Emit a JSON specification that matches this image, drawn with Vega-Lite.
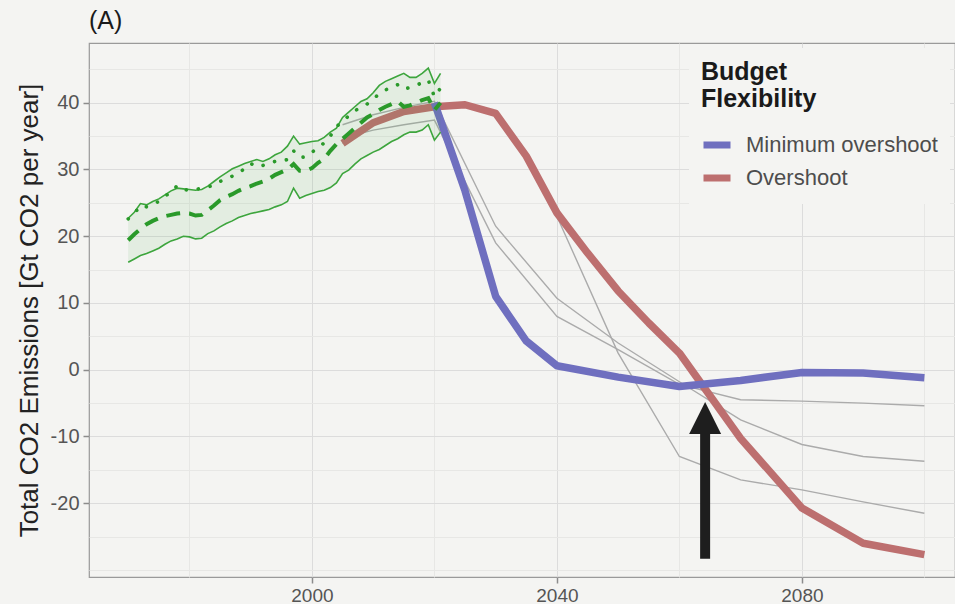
{
  "$schema": "https://vega.github.io/schema/vega-lite/v6.json",
  "width": 866,
  "height": 534,
  "autosize": "none",
  "padding": {"left": 89, "top": 43, "right": 0, "bottom": 27},
  "background": "#f4f4f2",
  "title": {"text": "(A)", "anchor": "start", "frame": "group", "fontSize": 25, "fontWeight": "normal", "color": "#1a1a1a", "offset": 9},
  "config": {
    "font": "Liberation Sans",
    "view": {"stroke": "#9a9a9a", "strokeWidth": 1.2},
    "axisY": {
      "titleFontSize": 26,
      "titleFontWeight": "normal",
      "titleColor": "#222222",
      "titlePadding": 8,
      "labelOverlap": false,
      "labelFlush": false,
      "domain": false,
      "tickSize": 6,
      "tickWidth": 1.5,
      "labelFontSize": 20,
      "labelColor": "#555555",
      "labelPadding": 4,
      "gridWidth": 1
    }
  },
  "datasets": {
    "hist": [
      {"year": 1970, "upper": 22.7, "lower": 16.1, "dashed": 19.4, "dotted": 22.6},
      {"year": 1971, "upper": 23.6, "lower": 16.6, "dashed": 20.3, "dotted": 23.4},
      {"year": 1972, "upper": 24.9, "lower": 17.1, "dashed": 21.1, "dotted": 24.6},
      {"year": 1973, "upper": 24.7, "lower": 17.4, "dashed": 21.8, "dotted": 24.4},
      {"year": 1974, "upper": 25.2, "lower": 17.8, "dashed": 22.3, "dotted": 24.8},
      {"year": 1975, "upper": 25.6, "lower": 18.2, "dashed": 22.7, "dotted": 25.2},
      {"year": 1976, "upper": 26.2, "lower": 18.8, "dashed": 23.0, "dotted": 26.0},
      {"year": 1977, "upper": 26.8, "lower": 19.3, "dashed": 23.2, "dotted": 26.6},
      {"year": 1978, "upper": 27.2, "lower": 19.6, "dashed": 23.4, "dotted": 27.6},
      {"year": 1979, "upper": 27.1, "lower": 20.0, "dashed": 23.5, "dotted": 27.0},
      {"year": 1980, "upper": 27.0, "lower": 19.9, "dashed": 23.4, "dotted": 26.9},
      {"year": 1981, "upper": 26.9, "lower": 19.6, "dashed": 23.1, "dotted": 27.0},
      {"year": 1982, "upper": 27.0, "lower": 19.7, "dashed": 23.2, "dotted": 27.2},
      {"year": 1983, "upper": 27.5, "lower": 20.4, "dashed": 23.9, "dotted": 27.4},
      {"year": 1984, "upper": 28.2, "lower": 20.8, "dashed": 24.6, "dotted": 27.6},
      {"year": 1985, "upper": 28.9, "lower": 21.4, "dashed": 25.4, "dotted": 28.2},
      {"year": 1986, "upper": 29.5, "lower": 21.9, "dashed": 25.9, "dotted": 28.6},
      {"year": 1987, "upper": 30.1, "lower": 22.3, "dashed": 26.3, "dotted": 29.0},
      {"year": 1988, "upper": 30.5, "lower": 22.8, "dashed": 26.8, "dotted": 29.5},
      {"year": 1989, "upper": 30.9, "lower": 23.1, "dashed": 27.2, "dotted": 30.1},
      {"year": 1990, "upper": 31.2, "lower": 23.4, "dashed": 27.5, "dotted": 30.9},
      {"year": 1991, "upper": 31.5, "lower": 23.6, "dashed": 27.9, "dotted": 30.4},
      {"year": 1992, "upper": 31.2, "lower": 23.8, "dashed": 28.2, "dotted": 30.6},
      {"year": 1993, "upper": 31.6, "lower": 24.0, "dashed": 28.6, "dotted": 31.0},
      {"year": 1994, "upper": 32.2, "lower": 24.4, "dashed": 29.2, "dotted": 31.2},
      {"year": 1995, "upper": 32.6, "lower": 24.7, "dashed": 29.6, "dotted": 31.2},
      {"year": 1996, "upper": 33.5, "lower": 25.2, "dashed": 30.0, "dotted": 31.5},
      {"year": 1997, "upper": 35.0, "lower": 27.2, "dashed": 30.8, "dotted": 32.8},
      {"year": 1998, "upper": 33.8, "lower": 25.7, "dashed": 29.8, "dotted": 31.8},
      {"year": 1999, "upper": 34.0, "lower": 26.1, "dashed": 29.8, "dotted": 31.9},
      {"year": 2000, "upper": 34.2, "lower": 26.4, "dashed": 30.2, "dotted": 32.6},
      {"year": 2001, "upper": 34.3, "lower": 26.7, "dashed": 31.0, "dotted": 33.2},
      {"year": 2002, "upper": 34.8, "lower": 26.9, "dashed": 31.6, "dotted": 34.0},
      {"year": 2003, "upper": 35.6, "lower": 27.3, "dashed": 32.8, "dotted": 35.0},
      {"year": 2004, "upper": 36.2, "lower": 28.0, "dashed": 33.8, "dotted": 36.4},
      {"year": 2005, "upper": 37.8, "lower": 29.4, "dashed": 34.6, "dotted": 37.3},
      {"year": 2006, "upper": 38.6, "lower": 29.9, "dashed": 35.4, "dotted": 38.0},
      {"year": 2007, "upper": 39.4, "lower": 30.8, "dashed": 36.2, "dotted": 38.8},
      {"year": 2008, "upper": 40.2, "lower": 31.6, "dashed": 37.0, "dotted": 39.3},
      {"year": 2009, "upper": 40.6, "lower": 32.1, "dashed": 37.8, "dotted": 39.8},
      {"year": 2010, "upper": 41.5, "lower": 32.6, "dashed": 38.3, "dotted": 40.5},
      {"year": 2011, "upper": 42.6, "lower": 33.0, "dashed": 38.9, "dotted": 41.4},
      {"year": 2012, "upper": 43.2, "lower": 33.6, "dashed": 39.4, "dotted": 41.9},
      {"year": 2013, "upper": 43.6, "lower": 34.2, "dashed": 39.8, "dotted": 42.4},
      {"year": 2014, "upper": 44.0, "lower": 34.6, "dashed": 40.2, "dotted": 42.7},
      {"year": 2015, "upper": 44.4, "lower": 35.2, "dashed": 39.4, "dotted": 42.0},
      {"year": 2016, "upper": 43.8, "lower": 35.6, "dashed": 39.6, "dotted": 42.3},
      {"year": 2017, "upper": 43.8, "lower": 35.6, "dashed": 40.0, "dotted": 42.6},
      {"year": 2018, "upper": 44.4, "lower": 35.9, "dashed": 40.4, "dotted": 43.0},
      {"year": 2019, "upper": 45.2, "lower": 36.7, "dashed": 40.7, "dotted": 43.4},
      {"year": 2020, "upper": 42.9, "lower": 34.4, "dashed": 38.9, "dotted": 40.9},
      {"year": 2021, "upper": 44.4, "lower": 35.6, "dashed": 40.0, "dotted": 42.2}
    ],
    "gray": [
      {"scenario": "G1", "year": 2005, "value": 36.7},
      {"scenario": "G1", "year": 2010, "value": 38.2},
      {"scenario": "G1", "year": 2015, "value": 39.3},
      {"scenario": "G1", "year": 2020, "value": 40.2},
      {"scenario": "G1", "year": 2030, "value": 21.5},
      {"scenario": "G1", "year": 2040, "value": 10.7},
      {"scenario": "G1", "year": 2050, "value": 4.0},
      {"scenario": "G1", "year": 2060, "value": -1.8},
      {"scenario": "G1", "year": 2070, "value": -7.5},
      {"scenario": "G1", "year": 2080, "value": -11.2},
      {"scenario": "G1", "year": 2090, "value": -13.0},
      {"scenario": "G1", "year": 2100, "value": -13.7},
      {"scenario": "G2", "year": 2005, "value": 34.7},
      {"scenario": "G2", "year": 2010, "value": 35.9},
      {"scenario": "G2", "year": 2015, "value": 36.7},
      {"scenario": "G2", "year": 2020, "value": 37.4},
      {"scenario": "G2", "year": 2030, "value": 19.0},
      {"scenario": "G2", "year": 2040, "value": 8.0},
      {"scenario": "G2", "year": 2050, "value": 3.0},
      {"scenario": "G2", "year": 2060, "value": -2.2},
      {"scenario": "G2", "year": 2070, "value": -4.5},
      {"scenario": "G2", "year": 2080, "value": -4.7},
      {"scenario": "G2", "year": 2090, "value": -5.0},
      {"scenario": "G2", "year": 2100, "value": -5.4},
      {"scenario": "G3", "year": 2005, "value": 33.9},
      {"scenario": "G3", "year": 2010, "value": 37.0},
      {"scenario": "G3", "year": 2015, "value": 38.7},
      {"scenario": "G3", "year": 2020, "value": 39.4},
      {"scenario": "G3", "year": 2025, "value": 39.7},
      {"scenario": "G3", "year": 2030, "value": 38.4},
      {"scenario": "G3", "year": 2035, "value": 32.0},
      {"scenario": "G3", "year": 2040, "value": 23.0},
      {"scenario": "G3", "year": 2050, "value": 2.5},
      {"scenario": "G3", "year": 2060, "value": -13.0},
      {"scenario": "G3", "year": 2070, "value": -16.5},
      {"scenario": "G3", "year": 2080, "value": -18.0},
      {"scenario": "G3", "year": 2090, "value": -19.8},
      {"scenario": "G3", "year": 2100, "value": -21.5}
    ],
    "budget": [
      {"budget": "Overshoot", "year": 2005, "value": 33.9},
      {"budget": "Overshoot", "year": 2010, "value": 37.0},
      {"budget": "Overshoot", "year": 2015, "value": 38.7},
      {"budget": "Overshoot", "year": 2020, "value": 39.4},
      {"budget": "Overshoot", "year": 2025, "value": 39.7},
      {"budget": "Overshoot", "year": 2030, "value": 38.4},
      {"budget": "Overshoot", "year": 2035, "value": 32.0},
      {"budget": "Overshoot", "year": 2040, "value": 23.5},
      {"budget": "Overshoot", "year": 2045, "value": 17.5},
      {"budget": "Overshoot", "year": 2050, "value": 11.8},
      {"budget": "Overshoot", "year": 2055, "value": 7.0},
      {"budget": "Overshoot", "year": 2060, "value": 2.5},
      {"budget": "Overshoot", "year": 2070, "value": -10.3},
      {"budget": "Overshoot", "year": 2080, "value": -20.7},
      {"budget": "Overshoot", "year": 2090, "value": -26.0},
      {"budget": "Overshoot", "year": 2100, "value": -27.7},
      {"budget": "Minimum overshoot", "year": 2020, "value": 40.0},
      {"budget": "Minimum overshoot", "year": 2025, "value": 26.8},
      {"budget": "Minimum overshoot", "year": 2030, "value": 11.0},
      {"budget": "Minimum overshoot", "year": 2035, "value": 4.3},
      {"budget": "Minimum overshoot", "year": 2040, "value": 0.6},
      {"budget": "Minimum overshoot", "year": 2050, "value": -1.1},
      {"budget": "Minimum overshoot", "year": 2060, "value": -2.5},
      {"budget": "Minimum overshoot", "year": 2070, "value": -1.6},
      {"budget": "Minimum overshoot", "year": 2080, "value": -0.4},
      {"budget": "Minimum overshoot", "year": 2090, "value": -0.5},
      {"budget": "Minimum overshoot", "year": 2100, "value": -1.2}
    ],
    "arrow": [
      {"year": 2064.2, "tail": -28.3, "head": -9.2, "tip": -7.24}
    ]
  },
  "encoding": {
    "x": {
      "field": "year",
      "type": "quantitative",
      "scale": {"domain": [1963.6, 2105], "nice": false, "zero": false},
      "axis": {
        "title": null,
        "values": [1980, 2000, 2020, 2040, 2060, 2080, 2100],
        "format": "d",
        "labelExpr": "(datum.value - 2000) % 40 == 0 ? datum.label : ''",
        "labelOverlap": false,
        "labelFlush": false,
        "domain": false,
        "tickSize": 6,
        "tickWidth": 1.5,
        "tickColor": {"condition": {"test": "(datum.value - 2000) % 40 != 0", "value": "transparent"}, "value": "#8c8c8c"},
        "labelFontSize": 19,
        "labelColor": "#555555",
        "labelPadding": 3,
        "gridColor": {"condition": {"test": "(datum.value - 2000) % 40 == 0", "value": "#dcdcdc"}, "value": "#e7e7e5"},
        "gridWidth": 1
      }
    }
  },
  "layer": [
    {
      "data": {"name": "gray"},
      "mark": {"type": "line", "color": "#ababab", "strokeWidth": 1.4},
      "encoding": {
        "y": {
          "field": "value",
          "type": "quantitative",
          "scale": {"domain": [-31.05, 48.95], "nice": false, "zero": false},
          "axis": {
            "title": "Total CO2 Emissions [Gt CO2 per year]",
            "values": [-30, -25, -20, -15, -10, -5, 0, 5, 10, 15, 20, 25, 30, 35, 40, 45],
            "labelExpr": "(datum.value % 10 == 0 && datum.value >= -20) ? ('' + datum.value) : ''",
            "tickColor": {"condition": {"test": "(datum.value % 10 != 0) || datum.value < -20", "value": "transparent"}, "value": "#8c8c8c"},
            "gridColor": {"condition": {"test": "datum.value % 10 == 0 && datum.value >= -20", "value": "#dcdcdc"}, "value": "#e7e7e5"}
          }
        },
        "detail": {"field": "scenario"}
      }
    },
    {
      "data": {"name": "budget"},
      "mark": {"type": "line", "strokeWidth": 7.5, "strokeJoin": "round"},
      "encoding": {
        "y": {
          "field": "value",
          "type": "quantitative",
          "scale": {"domain": [-31.05, 48.95], "nice": false, "zero": false},
          "axis": {
            "title": "Total CO2 Emissions [Gt CO2 per year]",
            "values": [-30, -25, -20, -15, -10, -5, 0, 5, 10, 15, 20, 25, 30, 35, 40, 45],
            "labelExpr": "(datum.value % 10 == 0 && datum.value >= -20) ? ('' + datum.value) : ''",
            "tickColor": {"condition": {"test": "(datum.value % 10 != 0) || datum.value < -20", "value": "transparent"}, "value": "#8c8c8c"},
            "gridColor": {"condition": {"test": "datum.value % 10 == 0 && datum.value >= -20", "value": "#dcdcdc"}, "value": "#e7e7e5"}
          }
        },
        "color": {
          "field": "budget",
          "type": "nominal",
          "scale": {"domain": ["Minimum overshoot", "Overshoot"], "range": ["#6f6fbf", "#bd6f6f"]},
          "legend": {
            "title": ["Budget", "Flexibility"],
            "orient": "none",
            "legendX": 600,
            "legendY": 5,
            "padding": 12,
            "fillColor": "#f4f4f2",
            "titleFontSize": 25,
            "titleFontWeight": "bold",
            "titleColor": "#1a1a1a",
            "titleLineHeight": 27,
            "titlePadding": 16,
            "labelFontSize": 22,
            "labelColor": "#4d4d4d",
            "labelLimit": 0,
            "symbolType": "stroke",
            "symbolSize": 729,
            "symbolStrokeWidth": 7,
            "symbolOffset": -1,
            "labelOffset": 12,
            "rowPadding": 2
          }
        }
      }
    },
    {
      "data": {"name": "hist"},
      "mark": {"type": "area", "color": "#4caf50", "opacity": 0.1},
      "encoding": {
        "y": {
          "field": "lower",
          "type": "quantitative",
          "scale": {"domain": [-31.05, 48.95], "nice": false, "zero": false},
          "axis": {
            "title": "Total CO2 Emissions [Gt CO2 per year]",
            "values": [-30, -25, -20, -15, -10, -5, 0, 5, 10, 15, 20, 25, 30, 35, 40, 45],
            "labelExpr": "(datum.value % 10 == 0 && datum.value >= -20) ? ('' + datum.value) : ''",
            "tickColor": {"condition": {"test": "(datum.value % 10 != 0) || datum.value < -20", "value": "transparent"}, "value": "#8c8c8c"},
            "gridColor": {"condition": {"test": "datum.value % 10 == 0 && datum.value >= -20", "value": "#dcdcdc"}, "value": "#e7e7e5"}
          }
        },
        "y2": {"field": "upper"}
      }
    },
    {
      "data": {"name": "hist"},
      "mark": {"type": "line", "color": "#3da53d", "strokeWidth": 1.6},
      "encoding": {
        "y": {
          "field": "upper",
          "type": "quantitative",
          "scale": {"domain": [-31.05, 48.95], "nice": false, "zero": false},
          "axis": {
            "title": "Total CO2 Emissions [Gt CO2 per year]",
            "values": [-30, -25, -20, -15, -10, -5, 0, 5, 10, 15, 20, 25, 30, 35, 40, 45],
            "labelExpr": "(datum.value % 10 == 0 && datum.value >= -20) ? ('' + datum.value) : ''",
            "tickColor": {"condition": {"test": "(datum.value % 10 != 0) || datum.value < -20", "value": "transparent"}, "value": "#8c8c8c"},
            "gridColor": {"condition": {"test": "datum.value % 10 == 0 && datum.value >= -20", "value": "#dcdcdc"}, "value": "#e7e7e5"}
          }
        }
      }
    },
    {
      "data": {"name": "hist"},
      "mark": {"type": "line", "color": "#3da53d", "strokeWidth": 1.6},
      "encoding": {
        "y": {
          "field": "lower",
          "type": "quantitative",
          "scale": {"domain": [-31.05, 48.95], "nice": false, "zero": false},
          "axis": {
            "title": "Total CO2 Emissions [Gt CO2 per year]",
            "values": [-30, -25, -20, -15, -10, -5, 0, 5, 10, 15, 20, 25, 30, 35, 40, 45],
            "labelExpr": "(datum.value % 10 == 0 && datum.value >= -20) ? ('' + datum.value) : ''",
            "tickColor": {"condition": {"test": "(datum.value % 10 != 0) || datum.value < -20", "value": "transparent"}, "value": "#8c8c8c"},
            "gridColor": {"condition": {"test": "datum.value % 10 == 0 && datum.value >= -20", "value": "#dcdcdc"}, "value": "#e7e7e5"}
          }
        }
      }
    },
    {
      "data": {"name": "hist"},
      "mark": {"type": "line", "color": "#2a9a2a", "strokeWidth": 4, "strokeDash": [14, 9]},
      "encoding": {
        "y": {
          "field": "dashed",
          "type": "quantitative",
          "scale": {"domain": [-31.05, 48.95], "nice": false, "zero": false},
          "axis": {
            "title": "Total CO2 Emissions [Gt CO2 per year]",
            "values": [-30, -25, -20, -15, -10, -5, 0, 5, 10, 15, 20, 25, 30, 35, 40, 45],
            "labelExpr": "(datum.value % 10 == 0 && datum.value >= -20) ? ('' + datum.value) : ''",
            "tickColor": {"condition": {"test": "(datum.value % 10 != 0) || datum.value < -20", "value": "transparent"}, "value": "#8c8c8c"},
            "gridColor": {"condition": {"test": "datum.value % 10 == 0 && datum.value >= -20", "value": "#dcdcdc"}, "value": "#e7e7e5"}
          }
        }
      }
    },
    {
      "data": {"name": "hist"},
      "mark": {"type": "line", "color": "#2a9a2a", "strokeWidth": 3.6, "strokeDash": [0.1, 12], "strokeCap": "round"},
      "encoding": {
        "y": {
          "field": "dotted",
          "type": "quantitative",
          "scale": {"domain": [-31.05, 48.95], "nice": false, "zero": false},
          "axis": {
            "title": "Total CO2 Emissions [Gt CO2 per year]",
            "values": [-30, -25, -20, -15, -10, -5, 0, 5, 10, 15, 20, 25, 30, 35, 40, 45],
            "labelExpr": "(datum.value % 10 == 0 && datum.value >= -20) ? ('' + datum.value) : ''",
            "tickColor": {"condition": {"test": "(datum.value % 10 != 0) || datum.value < -20", "value": "transparent"}, "value": "#8c8c8c"},
            "gridColor": {"condition": {"test": "datum.value % 10 == 0 && datum.value >= -20", "value": "#dcdcdc"}, "value": "#e7e7e5"}
          }
        }
      }
    },
    {
      "data": {"name": "arrow"},
      "mark": {"type": "rule", "color": "#1e1e1e", "strokeWidth": 10},
      "encoding": {
        "y": {
          "field": "tail",
          "type": "quantitative",
          "scale": {"domain": [-31.05, 48.95], "nice": false, "zero": false},
          "axis": {
            "title": "Total CO2 Emissions [Gt CO2 per year]",
            "values": [-30, -25, -20, -15, -10, -5, 0, 5, 10, 15, 20, 25, 30, 35, 40, 45],
            "labelExpr": "(datum.value % 10 == 0 && datum.value >= -20) ? ('' + datum.value) : ''",
            "tickColor": {"condition": {"test": "(datum.value % 10 != 0) || datum.value < -20", "value": "transparent"}, "value": "#8c8c8c"},
            "gridColor": {"condition": {"test": "datum.value % 10 == 0 && datum.value >= -20", "value": "#dcdcdc"}, "value": "#e7e7e5"}
          }
        },
        "y2": {"field": "head"}
      }
    },
    {
      "data": {"name": "arrow"},
      "mark": {"type": "point", "shape": "M0,-1L-1,1L1,1Z", "size": 1024, "filled": true, "color": "#1e1e1e", "opacity": 1, "strokeWidth": 0},
      "encoding": {
        "y": {
          "field": "tip",
          "type": "quantitative",
          "scale": {"domain": [-31.05, 48.95], "nice": false, "zero": false},
          "axis": {
            "title": "Total CO2 Emissions [Gt CO2 per year]",
            "values": [-30, -25, -20, -15, -10, -5, 0, 5, 10, 15, 20, 25, 30, 35, 40, 45],
            "labelExpr": "(datum.value % 10 == 0 && datum.value >= -20) ? ('' + datum.value) : ''",
            "tickColor": {"condition": {"test": "(datum.value % 10 != 0) || datum.value < -20", "value": "transparent"}, "value": "#8c8c8c"},
            "gridColor": {"condition": {"test": "datum.value % 10 == 0 && datum.value >= -20", "value": "#dcdcdc"}, "value": "#e7e7e5"}
          }
        }
      }
    }
  ]
}
